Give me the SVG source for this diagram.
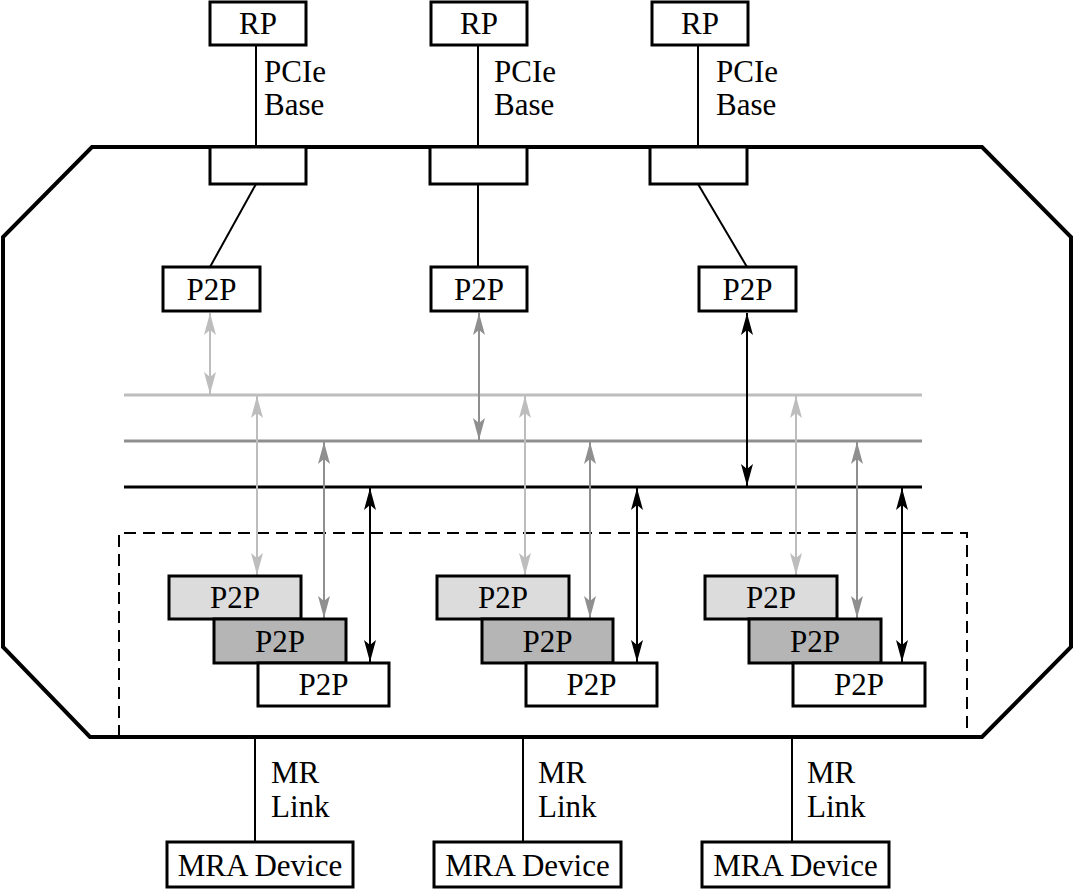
<svg xmlns="http://www.w3.org/2000/svg" width="1074" height="889" viewBox="0 0 1074 889">
<style>
text{font-family:"Liberation Serif","Times New Roman",serif;font-size:31px;fill:#000}
.c{text-anchor:middle}
.box{fill:#fff;stroke:#000;stroke-width:3}
.lt{fill:#dcdcdc;stroke:#000;stroke-width:3}
.md{fill:#b5b5b5;stroke:#000;stroke-width:3}
.ln{stroke:#000;stroke-width:2;fill:none}
.aL{stroke:#bdbdbd;stroke-width:2;marker-start:url(#mL);marker-end:url(#mL)}
.aM{stroke:#8f8f8f;stroke-width:2;marker-start:url(#mM);marker-end:url(#mM)}
.aK{stroke:#000;stroke-width:2;marker-start:url(#mK);marker-end:url(#mK)}
</style>
<defs>
<marker id="mL" markerUnits="userSpaceOnUse" viewBox="0 0 22 14" markerWidth="22" markerHeight="14" refX="22" refY="7" orient="auto-start-reverse"><path d="M0,1 L22,7 L0,13 L5,7 z" fill="#bdbdbd"/></marker>
<marker id="mM" markerUnits="userSpaceOnUse" viewBox="0 0 22 14" markerWidth="22" markerHeight="14" refX="22" refY="7" orient="auto-start-reverse"><path d="M0,1 L22,7 L0,13 L5,7 z" fill="#8f8f8f"/></marker>
<marker id="mK" markerUnits="userSpaceOnUse" viewBox="0 0 22 14" markerWidth="22" markerHeight="14" refX="22" refY="7" orient="auto-start-reverse"><path d="M0,1 L22,7 L0,13 L5,7 z" fill="#000"/></marker>
</defs>
<rect width="1074" height="889" fill="#fff"/>
<g id="switch">
<path d="M92,147 L982,147 L1071,237 L1071,647 L982,737 L90,737 L3,647 L3,237 Z" fill="none" stroke="#000" stroke-width="4"/>
<path d="M119,737 L119,533 L967,533 L967,737" fill="none" stroke="#000" stroke-width="2" stroke-dasharray="12,7"/>
</g>
<g id="buses">
<line x1="124" y1="395" x2="922" y2="395" stroke="#bdbdbd" stroke-width="3"/>
<line x1="124" y1="441" x2="922" y2="441" stroke="#8f8f8f" stroke-width="3"/>
<line x1="124" y1="487" x2="922" y2="487" stroke="#000" stroke-width="3"/>
</g>
<g id="connectors">
<line class="ln" x1="256" y1="45" x2="256" y2="147"/>
<line class="ln" x1="478" y1="45" x2="478" y2="147"/>
<line class="ln" x1="698" y1="45" x2="698" y2="147"/>
<line class="ln" x1="256" y1="184" x2="210" y2="267"/>
<line class="ln" x1="478" y1="184" x2="478" y2="267"/>
<line class="ln" x1="698" y1="184" x2="747" y2="267"/>
<line class="aL" x1="210" y1="313" x2="210" y2="394"/>
<line class="aM" x1="479" y1="313" x2="479" y2="440"/>
<line class="aK" x1="747" y1="313" x2="747" y2="486"/>
<line class="aL" x1="257" y1="396" x2="257" y2="575"/>
<line class="aM" x1="324" y1="442" x2="324" y2="618"/>
<line class="aK" x1="370" y1="488" x2="370" y2="662"/>
<line class="aL" x1="525" y1="396" x2="525" y2="575"/>
<line class="aM" x1="590" y1="442" x2="590" y2="618"/>
<line class="aK" x1="637" y1="488" x2="637" y2="662"/>
<line class="aL" x1="796" y1="396" x2="796" y2="575"/>
<line class="aM" x1="857" y1="442" x2="857" y2="618"/>
<line class="aK" x1="902" y1="488" x2="902" y2="662"/>
<line class="ln" x1="255" y1="737" x2="255" y2="842"/>
<line class="ln" x1="523" y1="737" x2="523" y2="842"/>
<line class="ln" x1="792" y1="737" x2="792" y2="842"/>
</g>
<g id="labels">
<text x="264" y="82">PCIe</text><text x="264" y="115">Base</text>
<text x="494" y="82">PCIe</text><text x="494" y="115">Base</text>
<text x="716" y="82">PCIe</text><text x="716" y="115">Base</text>
<text x="271" y="783">MR</text><text x="271" y="817">Link</text>
<text x="538" y="783">MR</text><text x="538" y="817">Link</text>
<text x="807" y="783">MR</text><text x="807" y="817">Link</text>
</g>
<g id="rp1"><rect class="box" x="210" y="2" width="96" height="43"/><text class="c" x="258" y="34">RP</text></g>
<g id="rp2"><rect class="box" x="431" y="2" width="96" height="43"/><text class="c" x="479" y="34">RP</text></g>
<g id="rp3"><rect class="box" x="652" y="2" width="96" height="43"/><text class="c" x="700" y="34">RP</text></g>
<g id="port1"><rect class="box" x="210" y="147" width="96" height="37"/></g>
<g id="port2"><rect class="box" x="430" y="147" width="97" height="37"/></g>
<g id="port3"><rect class="box" x="650" y="147" width="97" height="37"/></g>
<g id="p2p-up1"><rect class="box" x="163" y="267" width="97" height="44"/><text class="c" x="211.5" y="300">P2P</text></g>
<g id="p2p-up2"><rect class="box" x="431" y="267" width="96" height="44"/><text class="c" x="479" y="300">P2P</text></g>
<g id="p2p-up3"><rect class="box" x="699" y="267" width="97" height="44"/><text class="c" x="747.5" y="300">P2P</text></g>
<g id="p2p-g1a"><rect class="lt" x="169" y="576" width="132" height="43"/><text class="c" x="235" y="608">P2P</text></g>
<g id="p2p-g1b"><rect class="md" x="214" y="619" width="132" height="44"/><text class="c" x="280" y="652">P2P</text></g>
<g id="p2p-g1c"><rect class="box" x="258" y="663" width="131" height="43"/><text class="c" x="323.5" y="695">P2P</text></g>
<g id="p2p-g2a"><rect class="lt" x="437" y="576" width="132" height="43"/><text class="c" x="503" y="608">P2P</text></g>
<g id="p2p-g2b"><rect class="md" x="482" y="619" width="131" height="44"/><text class="c" x="547.5" y="652">P2P</text></g>
<g id="p2p-g2c"><rect class="box" x="526" y="663" width="131" height="43"/><text class="c" x="591.5" y="695">P2P</text></g>
<g id="p2p-g3a"><rect class="lt" x="705" y="576" width="132" height="43"/><text class="c" x="771" y="608">P2P</text></g>
<g id="p2p-g3b"><rect class="md" x="749" y="619" width="132" height="44"/><text class="c" x="815" y="652">P2P</text></g>
<g id="p2p-g3c"><rect class="box" x="793" y="663" width="132" height="43"/><text class="c" x="859" y="695">P2P</text></g>
<g id="mra1"><rect class="box" x="167" y="842" width="186" height="45"/><text class="c" x="260" y="876">MRA Device</text></g>
<g id="mra2"><rect class="box" x="434" y="842" width="187" height="45"/><text class="c" x="527.5" y="876">MRA Device</text></g>
<g id="mra3"><rect class="box" x="702" y="842" width="187" height="45"/><text class="c" x="795.5" y="876">MRA Device</text></g>
</svg>
